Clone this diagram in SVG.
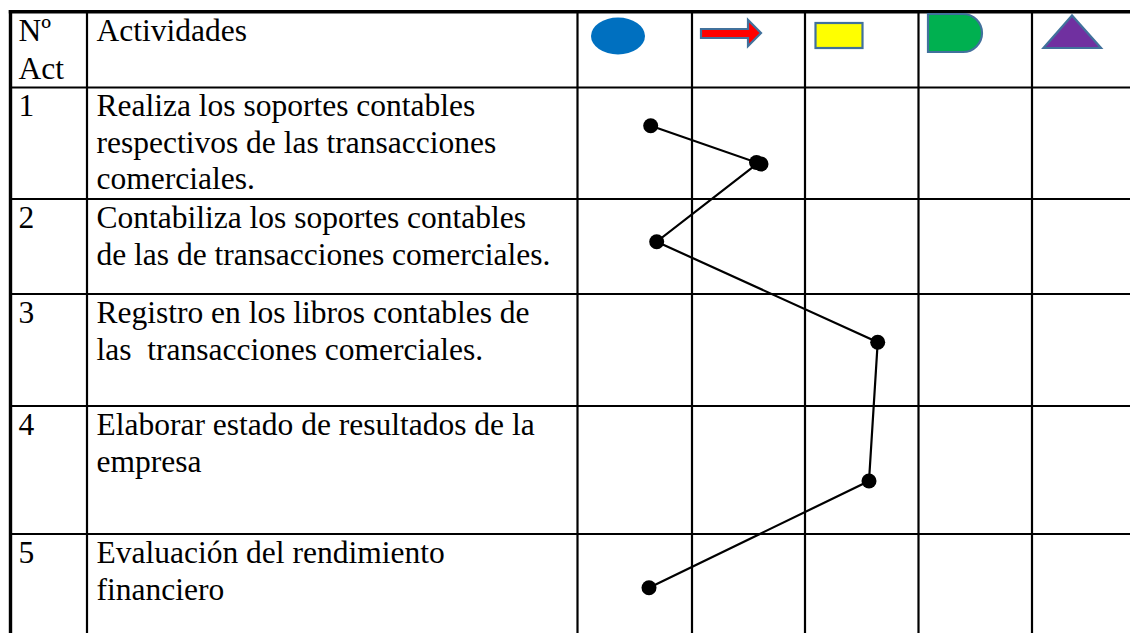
<svg xmlns="http://www.w3.org/2000/svg" width="1130" height="633" viewBox="0 0 1130 633">
<style>
  .t { font-family: "Liberation Serif", "Times New Roman", serif; font-size: 31.5px; fill: #000; white-space: pre; }
  .grid { stroke: #000; stroke-width: 2.2; fill: none; }
  .border { stroke: #000; stroke-width: 3.4; fill: none; }
  .conn { stroke: #000; stroke-width: 2.2; fill: none; }
  .dot { fill: #000; }
  .icon { stroke: #41719C; stroke-width: 2.2; }
</style>
<rect width="1130" height="633" fill="#fff"/>
<g id="grid">
  <line class="grid" x1="87" y1="11" x2="87" y2="633"/>
  <line class="grid" x1="577.5" y1="11" x2="577.5" y2="633"/>
  <line class="grid" x1="692" y1="11" x2="692" y2="633"/>
  <line class="grid" x1="805" y1="11" x2="805" y2="633"/>
  <line class="grid" x1="918.5" y1="11" x2="918.5" y2="633"/>
  <line class="grid" x1="1032" y1="11" x2="1032" y2="633"/>
  <line class="grid" x1="10" y1="87.5" x2="1130" y2="87.5"/>
  <line class="grid" x1="10" y1="199" x2="1130" y2="199"/>
  <line class="grid" x1="10" y1="294" x2="1130" y2="294"/>
  <line class="grid" x1="10" y1="406" x2="1130" y2="406"/>
  <line class="grid" x1="10" y1="534" x2="1130" y2="534"/>
  <line class="border" x1="8.8" y1="11.7" x2="1130" y2="11.7"/>
  <line class="border" x1="10.5" y1="10" x2="10.5" y2="633"/>
</g>
<g id="header">
  <text class="t" x="18.5" y="41">Nº</text>
  <text class="t" x="18.5" y="79">Act</text>
  <text class="t" x="96.5" y="41">Actividades</text>
  <g id="icon-operacion"><ellipse cx="618" cy="36" rx="27" ry="18.5" fill="#0070C0"/></g>
  <g id="icon-transporte"><polygon class="icon" fill="#FF0000" points="701,29 748,29 748,20 761,33 748,46 748,38 701,38"/></g>
  <g id="icon-inspeccion"><rect class="icon" fill="#FFFF00" x="815.5" y="23" width="47" height="25"/></g>
  <g id="icon-demora"><path class="icon" fill="#00B050" d="M928,14 H963 A19,19 0 0 1 963,52 H928 Z"/></g>
  <g id="icon-almacenamiento"><polygon class="icon" fill="#7030A0" points="1072,15.5 1043.5,48 1101,48"/></g>
</g>
<g id="row1">
  <text class="t" x="18.5" y="116">1</text>
  <text class="t" x="96.5" y="116">Realiza los soportes contables</text>
  <text class="t" x="96.5" y="153">respectivos de las transacciones</text>
  <text class="t" x="96.5" y="189">comerciales.</text>
</g>
<g id="row2">
  <text class="t" x="18.5" y="228">2</text>
  <text class="t" x="96.5" y="228">Contabiliza los soportes contables</text>
  <text class="t" x="96.5" y="265">de las de transacciones comerciales.</text>
</g>
<g id="row3">
  <text class="t" x="18.5" y="323">3</text>
  <text class="t" x="96.5" y="323">Registro en los libros contables de</text>
  <text class="t" x="96.5" y="360">las  transacciones comerciales.</text>
</g>
<g id="row4">
  <text class="t" x="18.5" y="435">4</text>
  <text class="t" x="96.5" y="435">Elaborar estado de resultados de la</text>
  <text class="t" x="96.5" y="472">empresa</text>
</g>
<g id="row5">
  <text class="t" x="18.5" y="563">5</text>
  <text class="t" x="96.5" y="563">Evaluación del rendimiento</text>
  <text class="t" x="96.5" y="600">financiero</text>
</g>
<g id="connectors">
  <polyline class="conn" points="650.7,125.7 758,163 656.7,241.7 877.7,342.3 869,481 649,587.7"/>
  <circle class="dot" cx="650.7" cy="125.7" r="7.5"/>
  <circle class="dot" cx="756.5" cy="162.5" r="7.5"/>
  <circle class="dot" cx="761" cy="164" r="7.5"/>
  <circle class="dot" cx="656.7" cy="241.7" r="7.5"/>
  <circle class="dot" cx="877.7" cy="342.3" r="7.5"/>
  <circle class="dot" cx="869" cy="481" r="7.5"/>
  <circle class="dot" cx="649" cy="587.7" r="7.5"/>
</g>
</svg>
